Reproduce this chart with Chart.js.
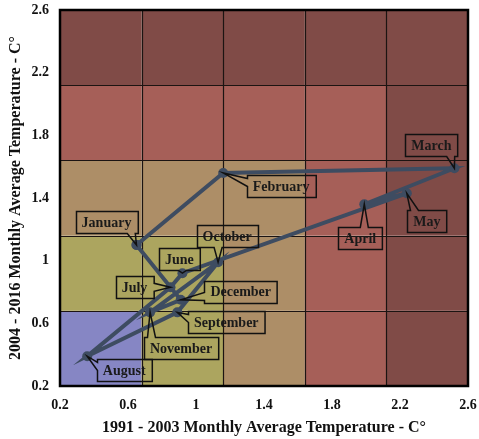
<!DOCTYPE html>
<html lang="en">
<head>
  <meta charset="UTF-8">
  <title>Monthly Average Temperature 1991-2003 vs 2004-2016</title>
  <script src="https://cdn.jsdelivr.net/npm/chart.js"></script>
  <style>
    html, body { margin: 0; padding: 0; background: #fff; }
  </style>
</head>
<body>
  <canvas id="tempChart" width="479" height="439"></canvas>

  <script>
    // data
    const months = ['January', 'February', 'March', 'April', 'May', 'June',
                    'July', 'August', 'September', 'October', 'November', 'December'];
    const temp1991 = [0.65, 1.16, 2.52, 1.99, 2.24, 0.92, 0.85, 0.36, 0.89, 1.13, 0.73, 0.91];
    const temp2004 = [1.10, 1.56, 1.59, 1.36, 1.43, 0.92, 0.83, 0.39, 0.67, 0.99, 0.67, 0.75];
    const bandEdges = [0.2, 0.68, 1.16, 1.64, 2.12, 2.6];

    // colours of the background cells, by max(column, row)
    const bandColors = ['#8686c4', '#aca55f', '#ad8e67', '#a65f58', '#804b47'];
    const lineColor = '#3e4c61';
    const serif = '"Liberation Serif", "Times New Roman", serif';

    // label box offset from its point (px)
    const labelOffsets = {
      January: [-30, -23], February: [58, 13], March: [-23, -23], April: [-4, 34],
      May: [20, 28], June: [-3, -14], July: [-36, 0], August: [37, 14],
      September: [49, 10], October: [9, -26], November: [31, 36], December: [60, -8]
    };

    // loop closes back to January
    const points = months.map((m, i) => ({ x: temp1991[i], y: temp2004[i], label: m }));
    points.push({ ...points[0] });

    const backgroundBands = {
      id: 'backgroundBands',
      beforeDatasetsDraw(chart) {
        const { ctx, chartArea: a, scales: { x, y } } = chart;
        ctx.save();
        for (let i = 0; i < 5; i++) {
          for (let j = 0; j < 5; j++) {
            const x0 = x.getPixelForValue(bandEdges[i]);
            const x1 = x.getPixelForValue(bandEdges[i + 1]);
            const y0 = y.getPixelForValue(bandEdges[j + 1]);
            const y1 = y.getPixelForValue(bandEdges[j]);
            ctx.fillStyle = bandColors[Math.max(i, j)];
            ctx.fillRect(x0, y0, x1 - x0, y1 - y0);
          }
        }
        ctx.strokeStyle = '#1c1412';
        ctx.lineWidth = 1.2;
        for (let k = 1; k < 5; k++) {
          const px = Math.round(x.getPixelForValue(bandEdges[k])) + 0.5;
          const py = Math.round(y.getPixelForValue(bandEdges[k])) + 0.5;
          ctx.beginPath();
          ctx.moveTo(px, a.top); ctx.lineTo(px, a.bottom);
          ctx.moveTo(a.left, py); ctx.lineTo(a.right, py);
          ctx.stroke();
        }
        ctx.lineWidth = 2.5;
        ctx.strokeStyle = '#000';
        ctx.strokeRect(a.left, a.top, a.width, a.height);
        ctx.restore();
      }
    };

    function calloutPath(ctx, l, t, r, b, tx, ty) {
      const d = { left: l - tx, right: tx - r, top: t - ty, bottom: ty - b };
      const side = Object.keys(d).reduce((m, k) => d[k] > d[m] ? k : m, 'bottom');
      const w = 8;
      const cx = Math.min(Math.max(tx - w / 2, l + 3), r - 3 - w);
      const cy = Math.min(Math.max(ty - w / 2, t + 3), b - 3 - w);
      ctx.beginPath();
      ctx.moveTo(l, t);
      if (side === 'top') { ctx.lineTo(cx, t); ctx.lineTo(tx, ty); ctx.lineTo(cx + w, t); }
      ctx.lineTo(r, t);
      if (side === 'right') { ctx.lineTo(r, cy); ctx.lineTo(tx, ty); ctx.lineTo(r, cy + w); }
      ctx.lineTo(r, b);
      if (side === 'bottom') { ctx.lineTo(cx + w, b); ctx.lineTo(tx, ty); ctx.lineTo(cx, b); }
      ctx.lineTo(l, b);
      if (side === 'left') { ctx.lineTo(l, cy + w); ctx.lineTo(tx, ty); ctx.lineTo(l, cy); }
      ctx.closePath();
    }

    const monthCallouts = {
      id: 'monthCallouts',
      afterDatasetsDraw(chart) {
        const { ctx } = chart;
        const meta = chart.getDatasetMeta(0);
        ctx.save();
        ctx.font = 'bold 14px ' + serif;
        ctx.textAlign = 'center';
        ctx.textBaseline = 'middle';
        months.forEach((m, i) => {
          const el = meta.data[i];
          const [dx, dy] = labelOffsets[m];
          const cx = el.x + dx, cy = el.y + dy;
          const bw = ctx.measureText(m).width + 12, bh = 22;
          const l = Math.round(cx - bw / 2) + 0.5, t = Math.round(cy - bh / 2) + 0.5;
          calloutPath(ctx, l, t, l + bw, t + bh, el.x, el.y);
          ctx.strokeStyle = '#111';
          ctx.lineWidth = 1.5;
          ctx.stroke();
          ctx.fillStyle = '#1a1a1a';
          ctx.fillText(m, cx, cy + 1);
        });
        ctx.restore();
      }
    };

    const tickFmt = v => String(+v.toFixed(1));

    new Chart(document.getElementById('tempChart'), {
      type: 'scatter',
      data: {
        datasets: [{
          data: points,
          showLine: true,
          borderColor: lineColor,
          backgroundColor: lineColor,
          borderWidth: 4,
          pointRadius: 5,
          pointBorderWidth: 0,
          tension: 0
        }]
      },
      options: {
        responsive: false,
        animation: false,
        layout: { autoPadding: false, padding: { top: 10, right: 11, left: 0, bottom: 0 } },
        plugins: { legend: { display: false }, tooltip: { enabled: false } },
        scales: {
          x: {
            type: 'linear', min: 0.2, max: 2.6,
            grid: { display: false, drawTicks: false },
            border: { display: false },
            ticks: { stepSize: 0.4, padding: 11, color: '#111', callback: tickFmt,
                     font: { family: serif, size: 14, weight: 'bold' } },
            title: { display: true, text: '1991 - 2003 Monthly Average Temperature - C°',
                     color: '#111', padding: { top: 0, bottom: 2 },
                     font: { family: serif, size: 16, weight: 'bold' } },
            afterFit(scale) {
              scale.height = 53;
              scale.paddingLeft = 0;
              scale.paddingRight = 0;
            }
          },
          y: {
            type: 'linear', min: 0.2, max: 2.6,
            grid: { display: false, drawTicks: false },
            border: { display: false },
            ticks: { stepSize: 0.4, padding: 11, color: '#111', callback: tickFmt,
                     font: { family: serif, size: 14, weight: 'bold' } },
            title: { display: true, text: '2004 - 2016 Monthly Average Temperature - C°',
                     color: '#111', padding: { top: 6, bottom: 0 },
                     font: { family: serif, size: 16, weight: 'bold' } },
            afterFit(scale) {
              scale.width = 60;
              scale.paddingTop = 0;
              scale.paddingBottom = 0;
            }
          }
        }
      },
      plugins: [backgroundBands, monthCallouts]
    });
  </script>
</body>
</html>
